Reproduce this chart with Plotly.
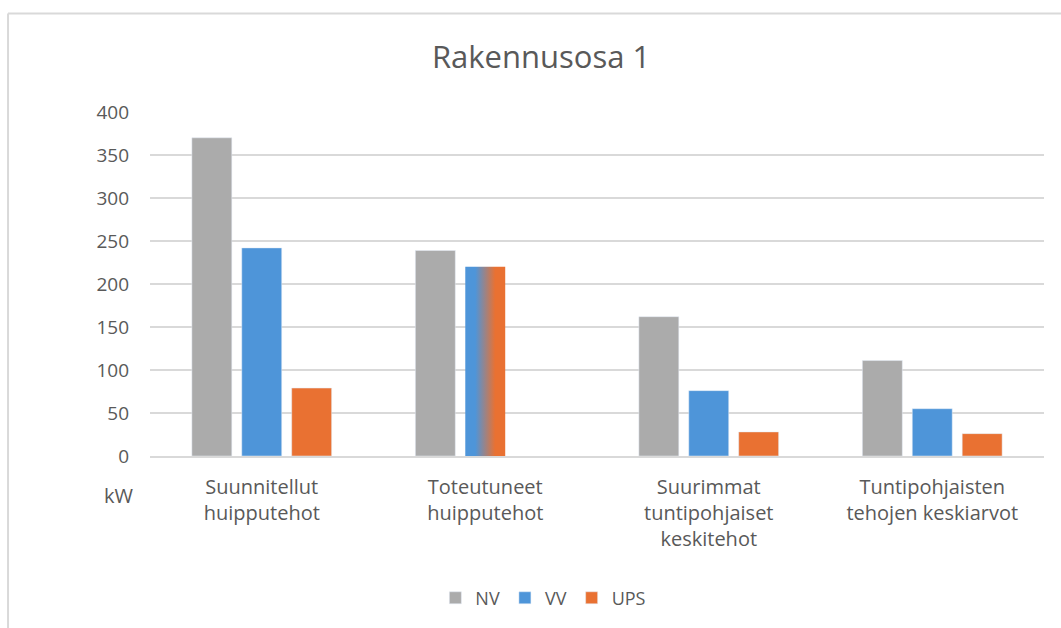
import plotly.graph_objects as go

# data
kategoriat = [
    "Suunnitellut<br>huipputehot",
    "Toteutuneet<br>huipputehot",
    "Suurimmat<br>tuntipohjaiset<br>keskitehot",
    "Tuntipohjaisten<br>tehojen keskiarvot",
]
nv = [370, 239, 162, 111]
vv = [242, None, 76, 55]
ups = [79, None, 28, 26]
# toteutuneet: VV ja UPS yhteinen palkki (liukuväri)
vv_ups_toteutunut = 220
vv_ups_index = 1

y_ticks = [0, 50, 100, 150, 200, 250, 300, 350, 400]

HARMAA = "#ABABAB"
SININEN = "#4E95D9"
ORANSSI = "#E97132"
TEKSTI = "#595959"
RUUDUKKO = "#D9D9D9"
FONTTI = "Open Sans"

BARGAP = 0.33
BARGROUPGAP = 0.2

x = list(range(len(kategoriat)))

fig = go.Figure()
fig.add_trace(go.Bar(x=x, y=nv, name="NV", marker_color=HARMAA))
fig.add_trace(go.Bar(x=x, y=vv, name="VV", marker_color=SININEN))
fig.add_trace(go.Bar(x=x, y=ups, name="UPS", marker_color=ORANSSI))

# yhteinen palkki keskimmäisen (VV) paikalle, leveys samoista gap-asetuksista
puolileveys = (1 - BARGAP) / 3 * (1 - BARGROUPGAP) / 2
x0 = vv_ups_index - puolileveys
x1 = vv_ups_index + puolileveys
fig.add_trace(
    go.Scatter(
        x=[x0, x0, x1, x1, x0],
        y=[0, vv_ups_toteutunut, vv_ups_toteutunut, 0, 0],
        mode="lines",
        line=dict(width=0),
        fill="toself",
        fillgradient=dict(
            type="horizontal",
            start=x0,
            stop=x1,
            colorscale=[[0, SININEN], [0.25, SININEN], [0.75, ORANSSI], [1, ORANSSI]],
        ),
        showlegend=False,
        hoverinfo="skip",
    )
)

fig.update_layout(
    width=1061,
    height=628,
    paper_bgcolor="white",
    plot_bgcolor="white",
    font=dict(family=FONTTI, color=TEKSTI, size=19),
    title=dict(
        text="Rakennusosa 1",
        x=0.51, xref="container", xanchor="center",
        y=0.909, yref="container", yanchor="middle",
        font=dict(size=31, color=TEKSTI),
    ),
    barmode="group",
    bargap=BARGAP,
    bargroupgap=BARGROUPGAP,
    margin=dict(l=150, r=17, t=112, b=172),
    legend=dict(
        orientation="h",
        x=0.44, xanchor="center",
        y=-0.413, yanchor="middle",
        font=dict(size=18, color=TEKSTI),
        itemwidth=30,
    ),
    showlegend=True,
)

fig.update_xaxes(
    tickmode="array",
    tickvals=x,
    ticktext=kategoriat,
    range=[-0.5, len(kategoriat) - 0.5],
    showgrid=False,
    showline=True,
    linecolor=RUUDUKKO,
    linewidth=2,
    ticks="",
    ticklabelstandoff=12,
    tickfont=dict(size=20, color=TEKSTI),
    zeroline=False,
)
fig.update_yaxes(
    range=[0, 400],
    tickvals=y_ticks,
    showgrid=True,
    gridcolor=RUUDUKKO,
    gridwidth=2,
    zeroline=False,
    ticks="",
    ticklabelstandoff=20,
    tickfont=dict(size=19, color=TEKSTI),
)

fig.add_annotation(
    text="kW", xref="paper", yref="paper", x=-0.035, y=-0.116,
    xanchor="center", yanchor="middle",
    showarrow=False, font=dict(size=20, color=TEKSTI),
)

# kaavion kehys (ylä- ja vasen reuna)
fig.add_shape(type="line", xref="paper", yref="paper",
              x0=-0.1588, x1=1.02, y0=1.286, y1=1.286,
              line=dict(color=RUUDUKKO, width=2))
fig.add_shape(type="line", xref="paper", yref="paper",
              x0=-0.1588, x1=-0.1588, y0=1.286, y1=-0.51,
              line=dict(color=RUUDUKKO, width=2))

fig.write_html(
    "out.html",
    config={"displayModeBar": False},
    post_script="document.body.style.margin='0';",
)
